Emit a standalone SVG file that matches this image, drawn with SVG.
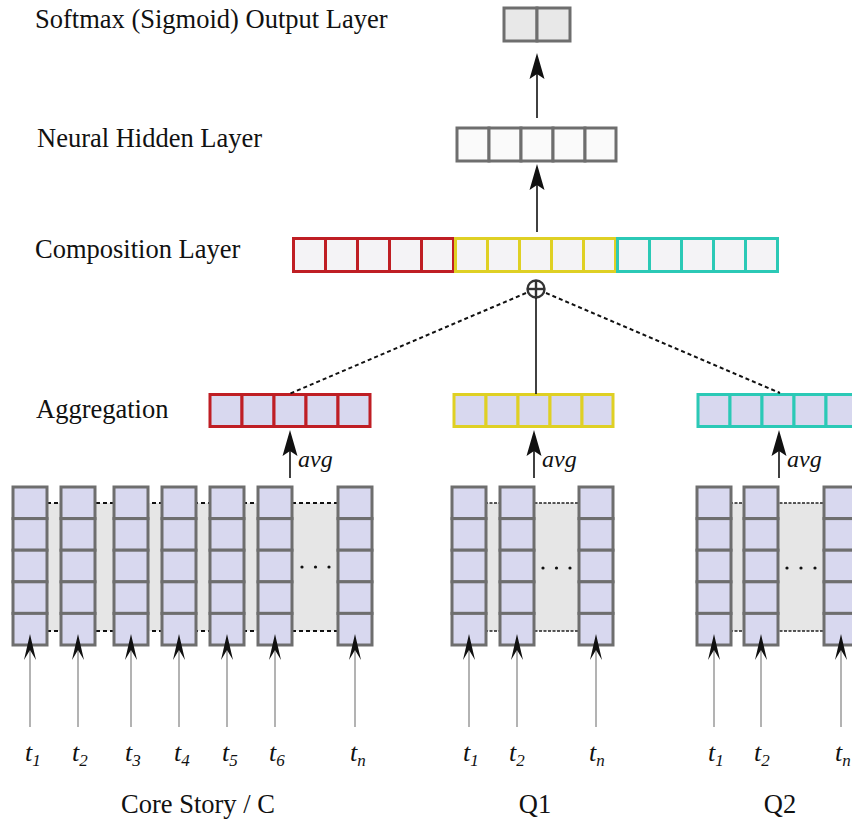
<svg xmlns="http://www.w3.org/2000/svg" xmlns:xlink="http://www.w3.org/1999/xlink" width="852" height="820" viewBox="0 0 852 820">
<style>
.lbl{font-family:"Liberation Serif","Times New Roman",serif;font-size:26.5px;fill:#111}
.it{font-family:"Liberation Serif","Times New Roman",serif;font-style:italic;font-size:26px;fill:#111}
.av{font-size:24px}
.sub{font-size:17px}
.cellG{fill:#d8d8ef;stroke:#6e6e6e;stroke-width:3}
.red{stroke:#bf1e24;stroke-width:3}
.yel{stroke:#dfd024;stroke-width:3}
.cya{stroke:#2bc9b6;stroke-width:3}
.comp{fill:#f4f3f6}
.agg{fill:#d8d8ef}
.hid{fill:#fafafa;stroke:#6e6e6e;stroke-width:3}
.out{fill:#e8e8e8;stroke:#6e6e6e;stroke-width:3}
.band{fill:#e6e6e6}
.dash{stroke:#111;stroke-width:2;stroke-dasharray:4 3;fill:none}
.dashT{stroke:#222;stroke-width:1.3;stroke-dasharray:3 1.5;fill:none}
.in{stroke:#a0a0a0;stroke-width:1.6}
.blk{stroke:#111;stroke-width:1.6}
</style>
<defs>
<path id="ah" d="M0,0 L-7.5,26 L0,21 L7.5,26 Z" fill="#111"/>
<path id="sh" d="M0,0 L-6,26 L0,16 L6,26 Z" fill="#111"/>
<g id="col">
<rect class="cellG" x="0" y="0" width="34" height="31.6"/>
<rect class="cellG" x="0" y="31.6" width="34" height="31.6"/>
<rect class="cellG" x="0" y="63.2" width="34" height="31.6"/>
<rect class="cellG" x="0" y="94.8" width="34" height="31.6"/>
<rect class="cellG" x="0" y="126.4" width="34" height="31.6"/>
</g>
</defs>

<!-- labels -->
<text class="lbl" x="35" y="28">Softmax (Sigmoid) Output Layer</text>
<text class="lbl" x="37" y="147">Neural Hidden Layer</text>
<text class="lbl" x="35" y="258">Composition Layer</text>
<text class="lbl" x="36" y="418">Aggregation</text>

<!-- background bands -->
<g id="bands">
<rect class="band" x="47" y="503" width="291" height="128"/>
<line class="dash" x1="47" y1="503" x2="338" y2="503"/>
<line class="dash" x1="47" y1="631" x2="338" y2="631"/>
<rect class="band" x="485" y="503" width="94" height="128"/>
<line class="dashT" x1="485" y1="503" x2="579" y2="503"/>
<line class="dashT" x1="485" y1="631" x2="579" y2="631"/>
<rect class="band" x="730" y="503" width="94" height="128"/>
<line class="dashT" x1="730" y1="503" x2="824" y2="503"/>
<line class="dashT" x1="730" y1="631" x2="824" y2="631"/>
</g>

<!-- output layer -->
<g id="output">
<rect class="out" x="504" y="8" width="33" height="33"/>
<rect class="out" x="537" y="8" width="33" height="33"/>
</g>

<!-- hidden layer -->
<g id="hidden">
<rect class="hid" x="457" y="128" width="32" height="33"/>
<rect class="hid" x="489" y="128" width="32" height="33"/>
<rect class="hid" x="521" y="128" width="32" height="33"/>
<rect class="hid" x="553" y="128" width="32" height="33"/>
<rect class="hid" x="585" y="128" width="31" height="33"/>
</g>

<!-- composition layer -->
<g id="composition">
<rect class="comp red" x="293.5" y="238.5" width="32" height="33"/>
<rect class="comp red" x="325.5" y="238.5" width="32" height="33"/>
<rect class="comp red" x="357.5" y="238.5" width="32" height="33"/>
<rect class="comp red" x="389.5" y="238.5" width="32" height="33"/>
<rect class="comp red" x="421.5" y="238.5" width="32" height="33"/>
<rect class="comp yel" x="455.5" y="238.5" width="32" height="33"/>
<rect class="comp yel" x="487.5" y="238.5" width="32" height="33"/>
<rect class="comp yel" x="519.5" y="238.5" width="32" height="33"/>
<rect class="comp yel" x="551.5" y="238.5" width="32" height="33"/>
<rect class="comp yel" x="583.5" y="238.5" width="32" height="33"/>
<rect class="comp cya" x="617.5" y="238.5" width="32" height="33"/>
<rect class="comp cya" x="649.5" y="238.5" width="32" height="33"/>
<rect class="comp cya" x="681.5" y="238.5" width="32" height="33"/>
<rect class="comp cya" x="713.5" y="238.5" width="32" height="33"/>
<rect class="comp cya" x="745.5" y="238.5" width="32" height="33"/>
</g>

<!-- aggregation -->
<g id="agg-core">
<rect class="agg red" x="210" y="394.5" width="32" height="32"/>
<rect class="agg red" x="242" y="394.5" width="32" height="32"/>
<rect class="agg red" x="274" y="394.5" width="32" height="32"/>
<rect class="agg red" x="306" y="394.5" width="32" height="32"/>
<rect class="agg red" x="338" y="394.5" width="32" height="32"/>
</g>
<g id="agg-q1">
<rect class="agg yel" x="454" y="394.5" width="32" height="32"/>
<rect class="agg yel" x="486" y="394.5" width="32" height="32"/>
<rect class="agg yel" x="518" y="394.5" width="32" height="32"/>
<rect class="agg yel" x="550" y="394.5" width="32" height="32"/>
<rect class="agg yel" x="582" y="394.5" width="31" height="32"/>
</g>
<g id="agg-q2">
<rect class="agg cya" x="698" y="394.5" width="32" height="32"/>
<rect class="agg cya" x="730" y="394.5" width="32" height="32"/>
<rect class="agg cya" x="762" y="394.5" width="32" height="32"/>
<rect class="agg cya" x="794" y="394.5" width="32" height="32"/>
<rect class="agg cya" x="826" y="394.5" width="32" height="32"/>
</g>

<!-- token columns -->
<g id="core-cols">
<use xlink:href="#col" x="13" y="487"/>
<use xlink:href="#col" x="61" y="487"/>
<use xlink:href="#col" x="114" y="487"/>
<use xlink:href="#col" x="162" y="487"/>
<use xlink:href="#col" x="210" y="487"/>
<use xlink:href="#col" x="258" y="487"/>
<use xlink:href="#col" x="338" y="487"/>
<circle cx="302" cy="567" r="1.6" fill="#111"/>
<circle cx="315.5" cy="567" r="1.6" fill="#111"/>
<circle cx="329" cy="567" r="1.6" fill="#111"/>
</g>
<g id="q1-cols">
<use xlink:href="#col" x="452" y="487"/>
<use xlink:href="#col" x="500" y="487"/>
<use xlink:href="#col" x="579" y="487"/>
<circle cx="543" cy="568" r="1.6" fill="#111"/>
<circle cx="556.5" cy="568" r="1.6" fill="#111"/>
<circle cx="570" cy="568" r="1.6" fill="#111"/>
</g>
<g id="q2-cols">
<use xlink:href="#col" x="697" y="487"/>
<use xlink:href="#col" x="744" y="487"/>
<use xlink:href="#col" x="824" y="487"/>
<circle cx="787" cy="568" r="1.6" fill="#111"/>
<circle cx="801" cy="568" r="1.6" fill="#111"/>
<circle cx="815" cy="568" r="1.6" fill="#111"/>
</g>

<!-- oplus -->
<g id="oplus" fill="none" stroke="#333" stroke-width="2.4">
<circle cx="536" cy="289" r="8.5"/>
<line x1="527.5" y1="289" x2="544.5" y2="289"/>
<line x1="536" y1="280.5" x2="536" y2="297.5"/>
</g>

<!-- connectors -->
<g id="connectors">
<line class="blk" x1="537" y1="118" x2="537" y2="62"/>
<use xlink:href="#ah" x="537" y="53"/>
<line class="blk" x1="537" y1="232" x2="537" y2="173"/>
<use xlink:href="#ah" x="537" y="164"/>
<line class="dash" x1="526" y1="293" x2="289" y2="394"/>
<line class="dash" x1="546" y1="293" x2="780" y2="393"/>
<line class="blk" x1="536" y1="298" x2="536" y2="394"/>
<line class="blk" x1="290" y1="478" x2="290" y2="440"/>
<use xlink:href="#ah" x="290" y="430"/>
<line class="blk" x1="534" y1="478" x2="534" y2="440"/>
<use xlink:href="#ah" x="534" y="430"/>
<line class="blk" x1="779" y1="478" x2="779" y2="440"/>
<use xlink:href="#ah" x="779" y="430"/>
<g id="inputs">
<line class="in" x1="30" y1="727" x2="30" y2="645"/><use xlink:href="#sh" x="30" y="634"/>
<line class="in" x1="78" y1="727" x2="78" y2="645"/><use xlink:href="#sh" x="78" y="634"/>
<line class="in" x1="131" y1="727" x2="131" y2="645"/><use xlink:href="#sh" x="131" y="634"/>
<line class="in" x1="179" y1="727" x2="179" y2="645"/><use xlink:href="#sh" x="179" y="634"/>
<line class="in" x1="227" y1="727" x2="227" y2="645"/><use xlink:href="#sh" x="227" y="634"/>
<line class="in" x1="275" y1="727" x2="275" y2="645"/><use xlink:href="#sh" x="275" y="634"/>
<line class="in" x1="355" y1="727" x2="355" y2="645"/><use xlink:href="#sh" x="355" y="634"/>
<line class="in" x1="469" y1="727" x2="469" y2="645"/><use xlink:href="#sh" x="469" y="634"/>
<line class="in" x1="517" y1="727" x2="517" y2="645"/><use xlink:href="#sh" x="517" y="634"/>
<line class="in" x1="596" y1="727" x2="596" y2="645"/><use xlink:href="#sh" x="596" y="634"/>
<line class="in" x1="714" y1="727" x2="714" y2="645"/><use xlink:href="#sh" x="714" y="634"/>
<line class="in" x1="761" y1="727" x2="761" y2="645"/><use xlink:href="#sh" x="761" y="634"/>
<line class="in" x1="841" y1="727" x2="841" y2="645"/><use xlink:href="#sh" x="841" y="634"/>
</g>
</g>

<!-- avg labels -->
<text class="it av" x="298" y="467">avg</text>
<text class="it av" x="542" y="467">avg</text>
<text class="it av" x="787" y="467">avg</text>

<!-- token labels -->
<g id="tokens">
<text class="it" x="25" y="761">t<tspan class="sub" dy="5">1</tspan></text>
<text class="it" x="72" y="761">t<tspan class="sub" dy="5">2</tspan></text>
<text class="it" x="125" y="761">t<tspan class="sub" dy="5">3</tspan></text>
<text class="it" x="174" y="761">t<tspan class="sub" dy="5">4</tspan></text>
<text class="it" x="222" y="761">t<tspan class="sub" dy="5">5</tspan></text>
<text class="it" x="269" y="761">t<tspan class="sub" dy="5">6</tspan></text>
<text class="it" x="350" y="761">t<tspan class="sub" dy="5">n</tspan></text>
<text class="it" x="463" y="761">t<tspan class="sub" dy="5">1</tspan></text>
<text class="it" x="509" y="761">t<tspan class="sub" dy="5">2</tspan></text>
<text class="it" x="589" y="761">t<tspan class="sub" dy="5">n</tspan></text>
<text class="it" x="708" y="761">t<tspan class="sub" dy="5">1</tspan></text>
<text class="it" x="754" y="761">t<tspan class="sub" dy="5">2</tspan></text>
<text class="it" x="835" y="761">t<tspan class="sub" dy="5">n</tspan></text>
</g>

<text class="lbl" x="198" y="813" text-anchor="middle">Core Story / C</text>
<text class="lbl" x="535" y="813" text-anchor="middle">Q1</text>
<text class="lbl" x="780" y="813" text-anchor="middle">Q2</text>
</svg>
